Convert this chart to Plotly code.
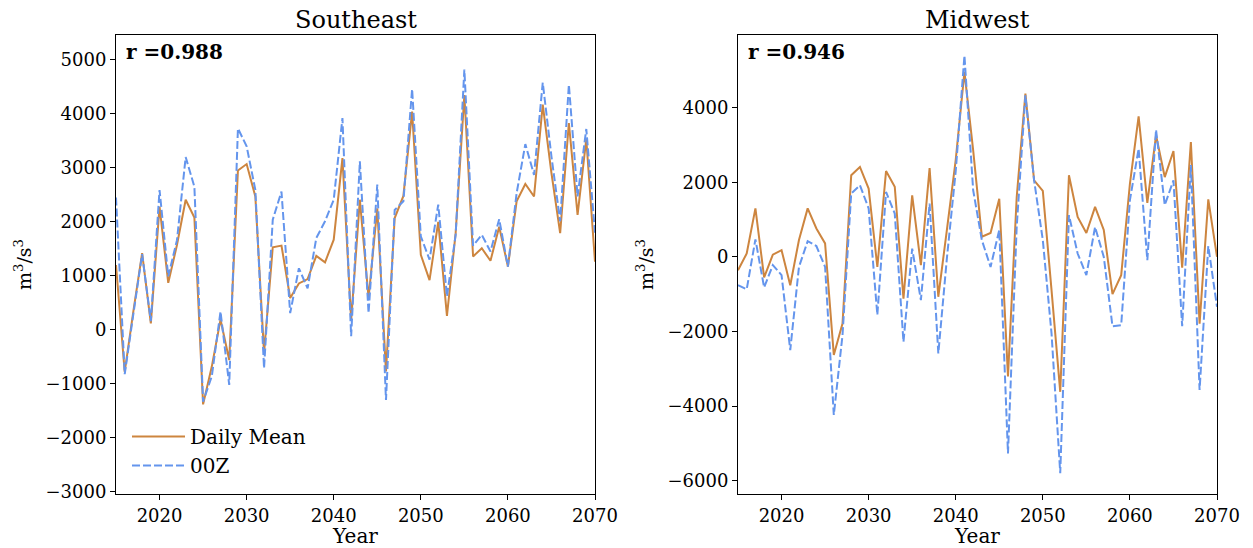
import plotly.graph_objects as go

years = list(range(2015, 2071))

se_daily = [1200, -780, 350, 1420, 120, 2280, 870, 1570, 2410, 2080,
            -1380, -680, 190, -560, 2950, 3070, 2470, -430, 1530, 1560,
            590, 860, 940, 1370, 1250, 1670, 3180, 180, 2410, 590,
            2250, -770, 2070, 2480, 4040, 1390, 920, 2000, 260, 1790,
            4350, 1360, 1510, 1280, 1910, 1170, 2380, 2700, 2470, 4170,
            2900, 1790, 3830, 2130, 3530, 1260]
se_00z = [2450, -820, 300, 1400, 160, 2590, 990, 1660, 3200, 2650,
          -1330, -860, 340, -1020, 3730, 3400, 2590, -710, 2040, 2560,
          310, 1140, 770, 1700, 2010, 2410, 3920, -120, 3120, 310,
          2690, -1300, 2220, 2380, 4460, 1730, 1300, 2320, 620, 1760,
          4820, 1560, 1760, 1450, 2050, 1170, 2530, 3440, 2870, 4580,
          3210, 2010, 4540, 2470, 3720, 1800]

mw_daily = [-360, 90, 1300, -550, 60, 180, -760, 450, 1300, 760,
            360, -2630, -1790, 2190, 2410, 1830, -270, 2300, 1880, -1120,
            1650, -220, 2380, -1070, 750, 2600, 4960, 2860, 540, 640,
            1560, -3210, 1600, 4380, 2050, 1770, -890, -3620, 2190, 1070,
            640, 1340, 720, -1000, -490, 1960, 3770, 1450, 3260, 2140,
            2840, -290, 3080, -1790, 1540, 0]
mw_00z = [-760, -870, 470, -820, -220, -490, -2500, -270, 420, 290,
          -270, -4240, -2100, 1700, 1920, 1300, -1560, 1740, 1160, -2280,
          220, -1160, 1430, -2590, 0, 2300, 5400, 1790, 450, -270,
          720, -5270, 800, 4330, 2050, 450, -2050, -5800, 1120, 90,
          -490, 800, 0, -1860, -1830, 1520, 2900, -90, 3410, 1390,
          2050, -1860, 2460, -3570, 290, -1340]

titles = ["Southeast", "Midwest"]
r_labels = ["r =0.988", "r =0.946"]
legend_names = ["Daily Mean", "00Z"]

ORANGE = "#CD853F"
BLUE = "#6495ED"
FONT = "DejaVu Serif"
DASH = "8px,3px"

fig = go.Figure()
fig.add_trace(go.Scatter(x=years, y=se_daily, mode="lines", name=legend_names[0],
                         line=dict(color=ORANGE, width=2), xaxis="x", yaxis="y"))
fig.add_trace(go.Scatter(x=years, y=se_00z, mode="lines", name=legend_names[1],
                         line=dict(color=BLUE, width=2, dash=DASH), xaxis="x", yaxis="y"))
fig.add_trace(go.Scatter(x=years, y=mw_daily, mode="lines", showlegend=False,
                         line=dict(color=ORANGE, width=2), xaxis="x2", yaxis="y2"))
fig.add_trace(go.Scatter(x=years, y=mw_00z, mode="lines", showlegend=False,
                         line=dict(color=BLUE, width=2, dash=DASH), xaxis="x2", yaxis="y2"))

W, H = 1253, 548
ydom = [1 - 494 / H, 1 - 35 / H]
xdom1 = [116 / W, 595 / W]
xdom2 = [738 / W, 1217 / W]

axis_common = dict(showline=True, linecolor="black", linewidth=1, mirror=True,
                   ticks="outside", ticklen=5, tickcolor="black", showgrid=False,
                   zeroline=False, automargin=False,
                   tickfont=dict(family=FONT, size=18, color="black"))

fig.update_layout(
    width=W, height=H,
    margin=dict(l=0, r=0, t=0, b=0),
    paper_bgcolor="white", plot_bgcolor="white",
    font=dict(family=FONT, color="black"),
    xaxis=dict(domain=xdom1, anchor="y", range=[2015, 2070], tick0=2020, dtick=10,
               title=dict(text="Year", font=dict(family=FONT, size=20), standoff=2),
               **axis_common),
    yaxis=dict(domain=ydom, anchor="x", range=[-3040, 5460], tick0=0, dtick=1000,
               title=dict(text="m<sup>3</sup>/s<sup>3</sup>", font=dict(family=FONT, size=19), standoff=8),
               **axis_common),
    xaxis2=dict(domain=xdom2, anchor="y2", range=[2015, 2070], tick0=2020, dtick=10,
                title=dict(text="Year", font=dict(family=FONT, size=20), standoff=2),
                **axis_common),
    yaxis2=dict(domain=ydom, anchor="x2", range=[-6360, 5950], tick0=0, dtick=2000,
                title=dict(text="m<sup>3</sup>/s<sup>3</sup>", font=dict(family=FONT, size=19), standoff=8),
                **axis_common),
    legend=dict(x=127 / W, y=1 - 485 / H, xanchor="left", yanchor="bottom",
                bgcolor="rgba(255,255,255,0)", font=dict(family=FONT, size=20),
                itemwidth=53, tracegroupgap=0),
    showlegend=True,
)

for i, (t, r) in enumerate(zip(titles, r_labels)):
    xd = xdom1 if i == 0 else xdom2
    fig.add_annotation(text=t, x=(xd[0] + xd[1]) / 2, y=1 - 20 / H, xref="paper", yref="paper",
                       showarrow=False, font=dict(family=FONT, size=24, color="black"),
                       xanchor="center", yanchor="middle")
    fig.add_annotation(text="<b>" + r + "</b>", x=0.016, y=0.993,
                       xref=("x domain" if i == 0 else "x2 domain"),
                       yref=("y domain" if i == 0 else "y2 domain"),
                       showarrow=False, font=dict(family=FONT, size=20, color="black"),
                       xanchor="left", yanchor="top")

fig.write_html("out.html")
